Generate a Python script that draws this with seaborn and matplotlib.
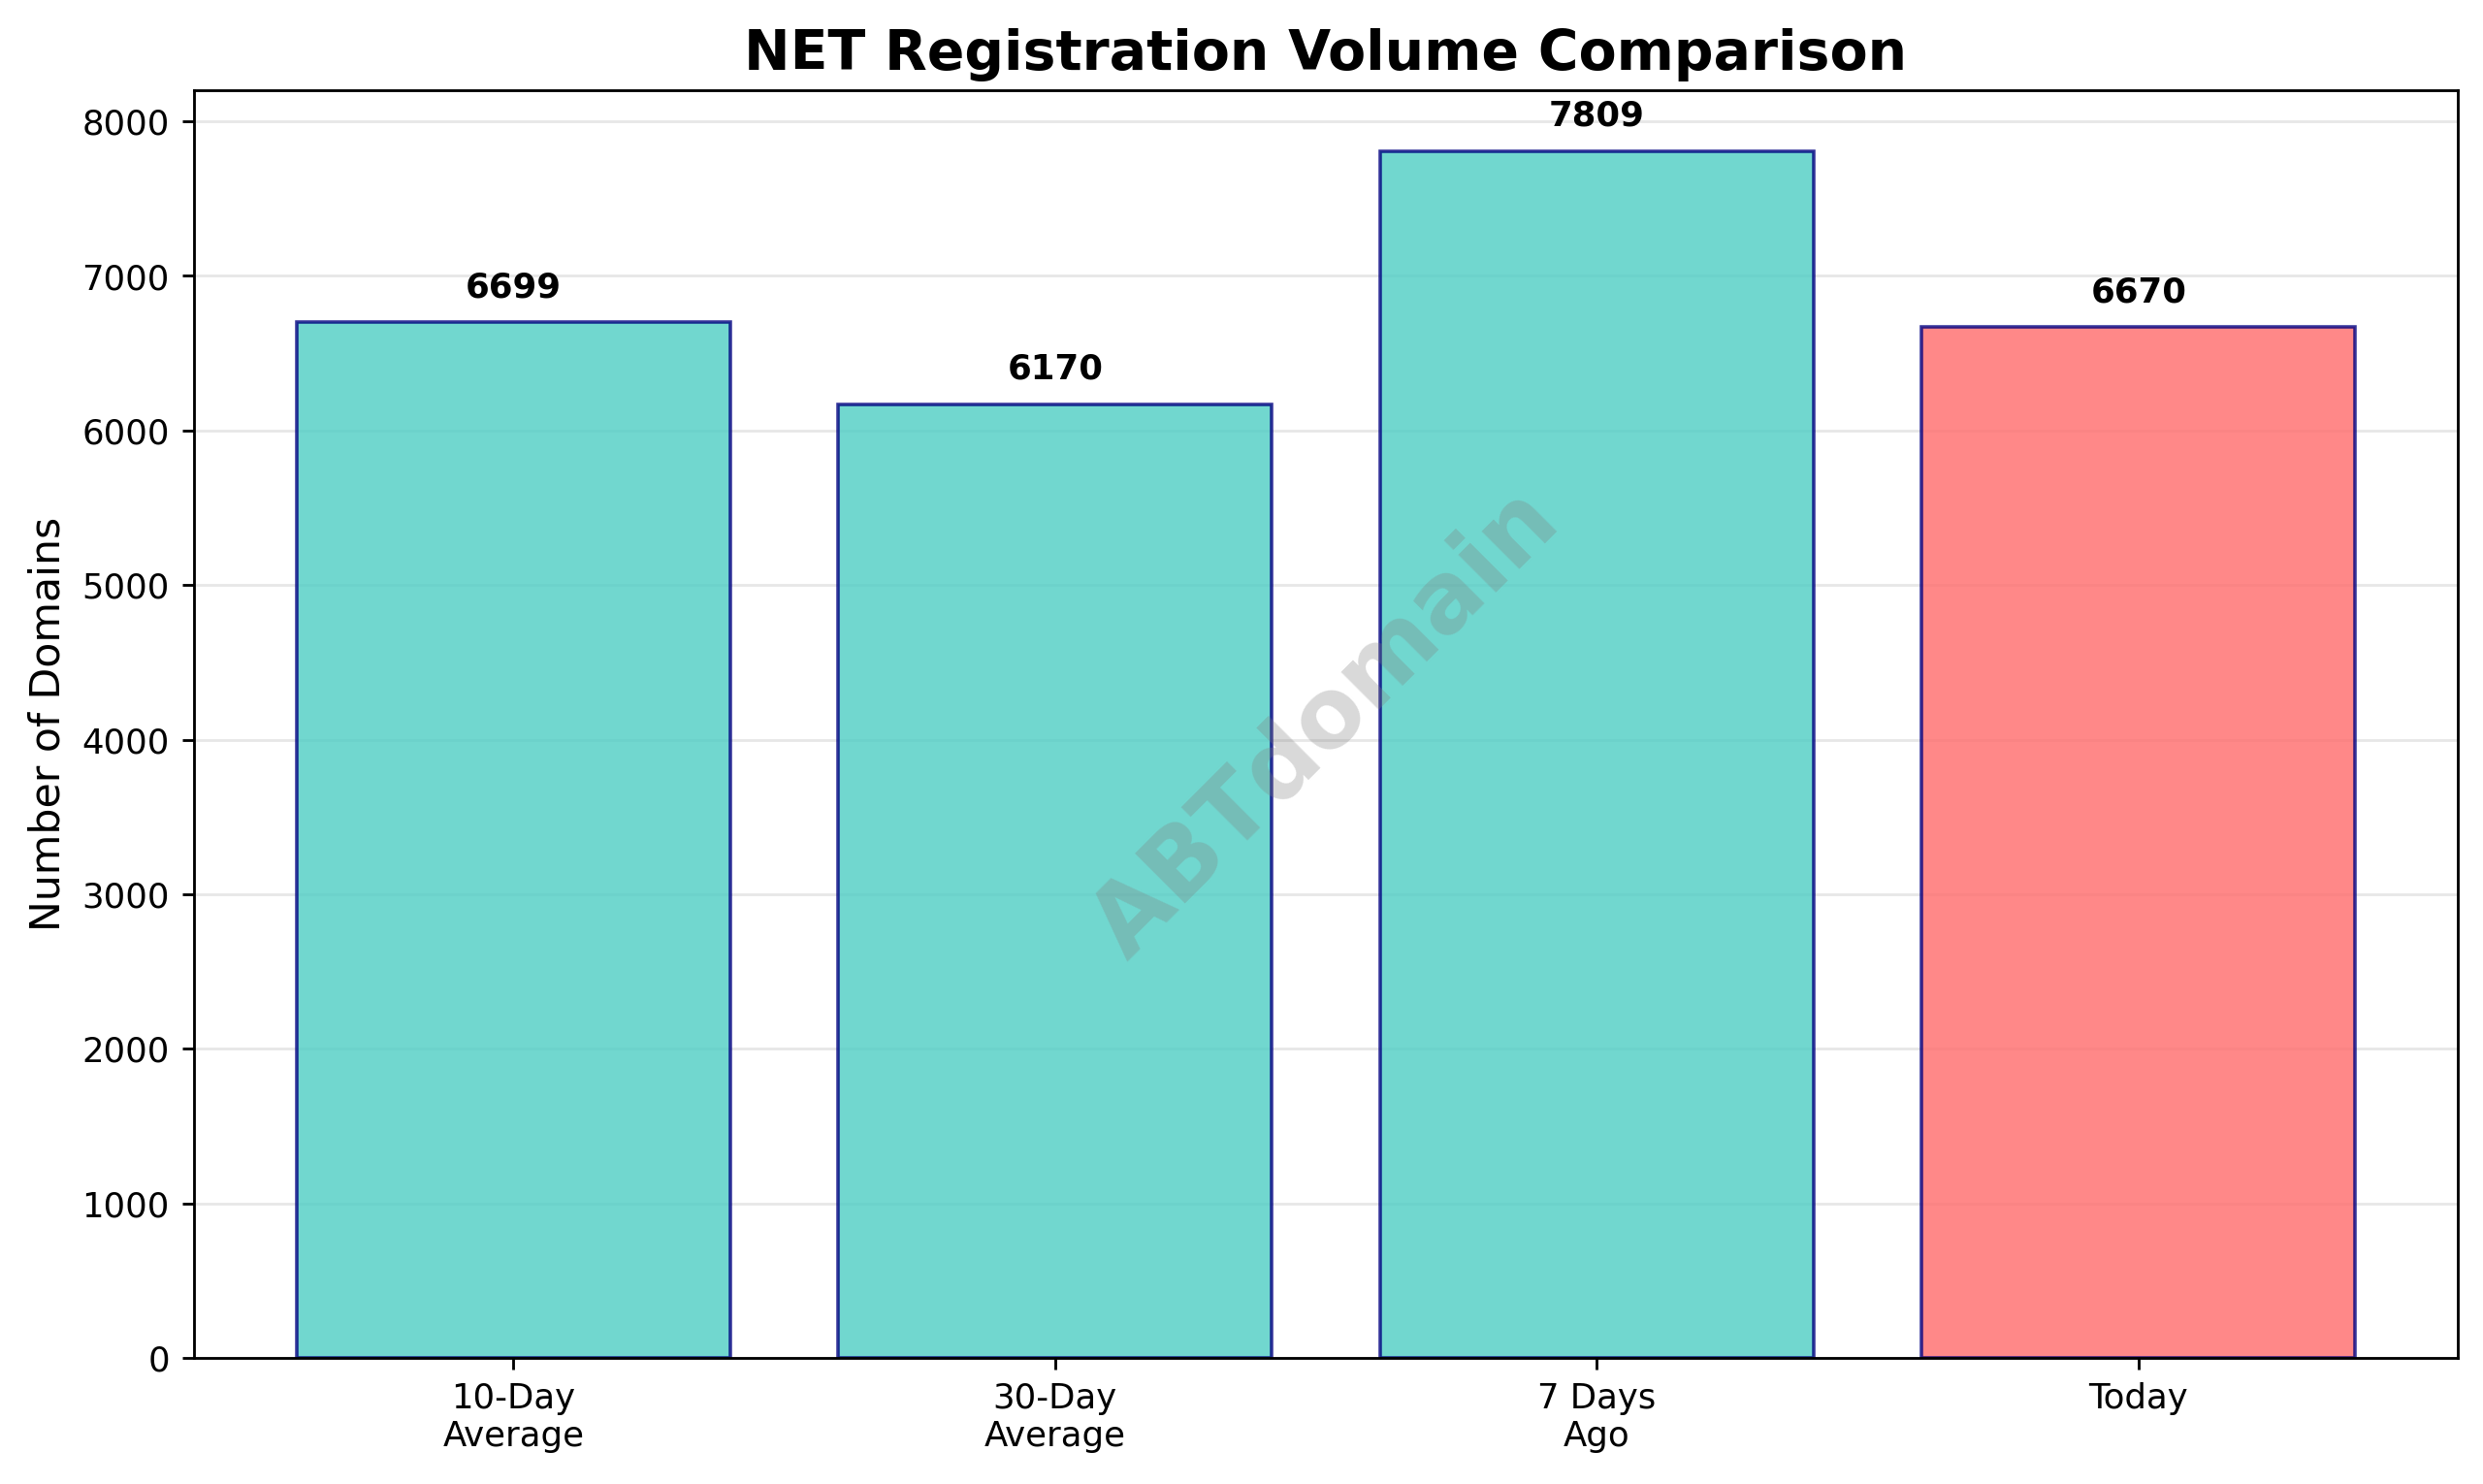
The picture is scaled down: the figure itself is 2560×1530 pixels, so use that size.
import matplotlib
matplotlib.use("Agg")
import matplotlib.pyplot as plt
import seaborn as sns
import pandas as pd

categories = ["10-Day\nAverage", "30-Day\nAverage", "7 Days\nAgo", "Today"]
values = [6699, 6170, 7809, 6670]
colors = ["#4ECDC4", "#4ECDC4", "#4ECDC4", "#FF6B6B"]

df = pd.DataFrame({"period": categories, "domains": values})

fig, ax = plt.subplots(figsize=(10, 5.977), dpi=256)
sns.barplot(data=df, x="period", y="domains", hue="period", palette=colors,
            legend=False, alpha=0.8, edgecolor="navy", linewidth=1,
            saturation=1, width=0.8, ax=ax)

for i, v in enumerate(values):
    ax.text(i, v + 120, str(v), ha="center", va="bottom",
            fontsize=10, fontweight="bold")

ax.set_title("NET Registration Volume Comparison", fontsize=16, fontweight="bold")
ax.set_ylabel("Number of Domains", fontsize=12)
ax.set_xlabel("")
ax.set_xlim(-0.59, 3.59)
ax.set_ylim(0, 8200)
ax.yaxis.grid(True, alpha=0.3)
ax.set_axisbelow(True)

ax.text(0.5, 0.5, "ABTdomain", transform=ax.transAxes, fontsize=28,
        color="gray", alpha=0.3, fontweight="bold", rotation=45,
        ha="center", va="center")

fig.subplots_adjust(left=0.078, right=0.990, top=0.939, bottom=0.085)
fig.savefig("out.png")
